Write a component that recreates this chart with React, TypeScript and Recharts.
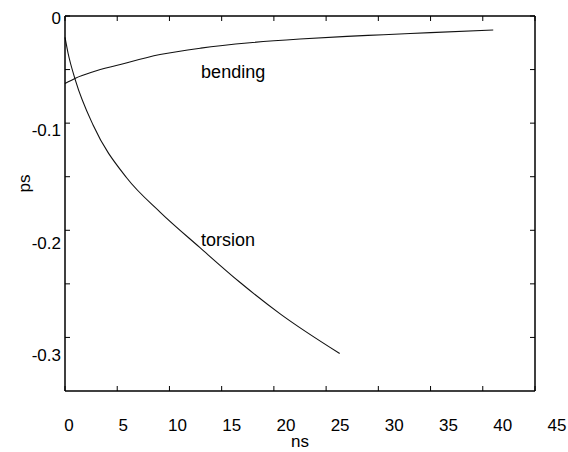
import React from 'react';
import { LineChart, Line, XAxis, YAxis, ReferenceDot } from 'recharts';

// values
const bendingNs = [0, 1, 2.7, 5, 9.1, 13, 17.7, 22.5, 27, 30.5, 35, 41];
const bendingPs = [-0.063, -0.058, -0.052, -0.046, -0.036, -0.03, -0.025, -0.0215, -0.019, -0.0175, -0.0155, -0.013];
const torsionNs = [0, 0.3, 1, 2.7, 5.9, 9.1, 12.9, 16.8, 20.6, 26.3];
const torsionPs = [-0.02, -0.035, -0.06, -0.102, -0.151, -0.183, -0.216, -0.249, -0.278, -0.315];

const xTicks = [0, 5, 10, 15, 20, 25, 30, 35, 40, 45];
const yTicks = [0, -0.05, -0.1, -0.15, -0.2, -0.25, -0.3];

const bending = bendingNs.map((ns, i) => ({ ns, ps: bendingPs[i] }));
const torsion = torsionNs.map((ns, i) => ({ ns, ps: torsionPs[i] }));

const fontFamily = '"Liberation Sans", Arial, Helvetica, sans-serif';
const ink = '#000';
const TICK = 5;

const yLabel = (v: number) => {
  const t = v * 10;
  if (Math.abs(t - Math.round(t)) > 1e-6) return '';
  return v === 0 ? '0' : v.toFixed(1);
};

// tickSize/tickMargin are 0, so x/y handed to these are on the axis line;
// ticks point into the plot like the old matlab-style frame
const BottomTick = (p: any) => {
  const v = p.payload.value;
  return (
    <g>
      <line x1={p.x} x2={p.x} y1={p.y} y2={p.y - TICK} stroke={ink} />
      <text x={p.x + 4 + v * 0.4} y={p.y + 34} dy="0.355em" textAnchor="middle" fill={ink} fontSize={17}>
        {v}
      </text>
    </g>
  );
};

const TopTick = (p: any) => (
  <line x1={p.x} x2={p.x} y1={p.y} y2={p.y + TICK} stroke={ink} />
);

const LeftTick = (p: any) => {
  const v = p.payload.value;
  return (
    <g>
      <line x1={p.x} x2={p.x + TICK} y1={p.y} y2={p.y} stroke={ink} />
      <text x={p.x - 4} y={p.y + 2 + Math.abs(v) * 52} dy="0.355em" textAnchor="end" fill={ink} fontSize={17}>
        {yLabel(v)}
      </text>
    </g>
  );
};

const RightTick = (p: any) => (
  <line x1={p.x} x2={p.x - TICK} y1={p.y} y2={p.y} stroke={ink} />
);

const frame = { stroke: ink, strokeWidth: 1.5 };

export default function App() {
  return (
    <div style={{ position: 'absolute', left: 0, top: 0 }}>
      <LineChart
        width={568}
        height={452}
        margin={{ top: 15, right: 32, bottom: 0, left: 0 }}
        style={{ fontFamily, background: '#fff' }}
      >
        <XAxis
          dataKey="ns"
          type="number"
          domain={[0, 45]}
          ticks={xTicks}
          height={61}
          tickSize={0}
          tickMargin={0}
          tickLine={false}
          axisLine={frame}
          tick={BottomTick}
          label={{ value: 'ns', position: 'insideBottom', offset: 5, fill: ink, fontSize: 17 }}
        />
        <XAxis
          xAxisId="top"
          dataKey="ns"
          orientation="top"
          type="number"
          domain={[0, 45]}
          ticks={xTicks}
          height={1}
          tickSize={0}
          tickMargin={0}
          tickLine={false}
          axisLine={frame}
          tick={TopTick}
        />
        <YAxis
          type="number"
          domain={[-0.35, 0]}
          ticks={yTicks}
          width={65}
          tickSize={0}
          tickMargin={0}
          tickLine={false}
          axisLine={frame}
          tick={LeftTick}
          label={{ value: 'ps', angle: -90, position: 'insideLeft', offset: 24, fill: ink, fontSize: 17, dy: -11 }}
        />
        <YAxis
          yAxisId="right"
          orientation="right"
          type="number"
          domain={[-0.35, 0]}
          ticks={yTicks}
          width={1}
          tickSize={0}
          tickMargin={0}
          tickLine={false}
          axisLine={frame}
          tick={RightTick}
        />
        <Line
          data={bending}
          dataKey="ps"
          type="monotone"
          stroke="#111"
          strokeWidth={1.1}
          dot={false}
          isAnimationActive={false}
        />
        {/* same domains as bottom/left, so torsion sits on the top/right pair to keep those frame edges alive */}
        <Line
          data={torsion}
          dataKey="ps"
          xAxisId="top"
          yAxisId="right"
          type="monotone"
          stroke="#111"
          strokeWidth={1.1}
          dot={false}
          isAnimationActive={false}
        />
        <ReferenceDot
          x={16.1}
          y={-0.0523}
          r={0}
          fill="none"
          stroke="none"
          label={{ value: 'bending', position: 'center', fill: ink, fontSize: 18 }}
        />
        <ReferenceDot
          x={15.6}
          y={-0.209}
          r={0}
          fill="none"
          stroke="none"
          label={{ value: 'torsion', position: 'center', fill: ink, fontSize: 18 }}
        />
      </LineChart>
    </div>
  );
}
